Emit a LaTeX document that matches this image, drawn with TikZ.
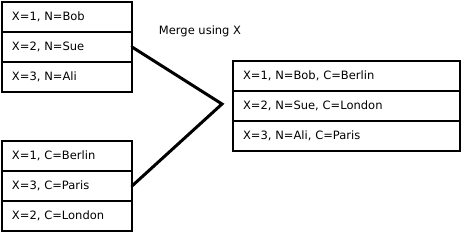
\documentclass[tikz,border=0pt]{standalone}
\usepackage{fontspec}
\setmainfont{DejaVu Sans}
\usetikzlibrary{positioning}

\tikzset{
  cell/.style={draw=black, line width=1.4pt, outer sep=0pt, inner xsep=10pt,
    minimum height=30pt, text width=110pt, align=left, font=\fontsize{11.5}{13}\selectfont},
  widecell/.style={cell, text width=207pt},
  link/.style={draw=black, line width=3pt, line cap=round}
}

\begin{document}
\begin{tikzpicture}[x=1pt, y=-1pt]
  \useasboundingbox (0,0) rectangle (461,235);

  % 1. names
  \node[cell, anchor=north west] (n1) at (2,2) {X=1, N=Bob};
  \node[cell, below=0pt of n1] (n2) {X=2, N=Sue};
  \node[cell, below=0pt of n2] (n3) {X=3, N=Ali};

  % 2. cities
  \node[cell, anchor=north west] (c1) at (2,141) {X=1, C=Berlin};
  \node[cell, below=0pt of c1] (c2) {X=3, C=Paris};
  \node[cell, below=0pt of c2] (c3) {X=2, C=London};

  % 3. merged result
  \node[widecell, anchor=north west] (m1) at (233,61) {X=1, N=Bob, C=Berlin};
  \node[widecell, below=0pt of m1] (m2) {X=2, N=Sue, C=London};
  \node[widecell, below=0pt of m2] (m3) {X=3, N=Ali, C=Paris};

  % 4. merge point and label
  \coordinate (merge) at (222,104);
  \node[font=\fontsize{11.5}{13}\selectfont] (label) at (200,31) {Merge using X};

  \draw[link] (n2.east) -- (merge) -- (c2.east);
\end{tikzpicture}
\end{document}
